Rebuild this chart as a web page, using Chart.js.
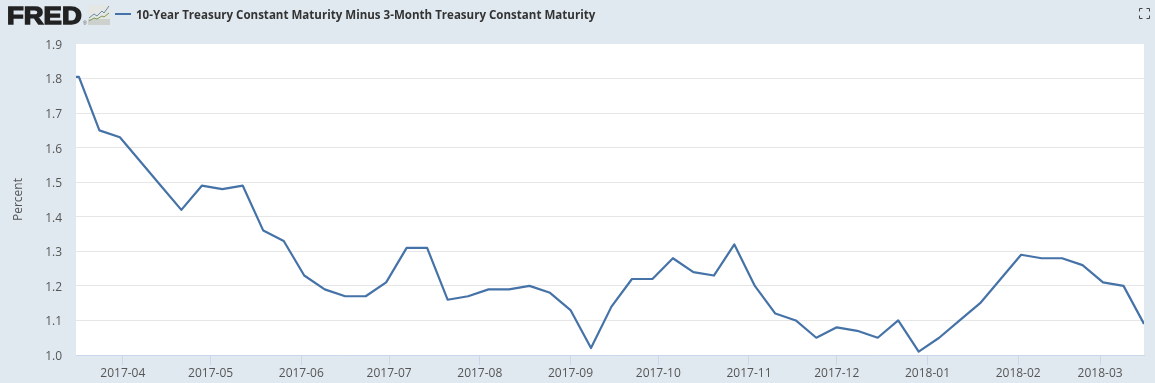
<!DOCTYPE html>
<html><head><meta charset="utf-8">
<style>
html,body{margin:0;padding:0;background:#e1e9f0;width:1155px;height:383px;overflow:hidden}
#wrap{position:relative;width:1155px;height:383px}
canvas{position:absolute;left:0;top:0}
#fred{position:absolute;left:7px;top:4px;font:bold 24.5px/24.5px "Liberation Sans",Arial,sans-serif;color:#222;-webkit-text-stroke:1.4px #222;transform:scaleX(1.12);transform-origin:0 0}
#reg{position:absolute;left:83px;top:21px;font:5px/5px "Liberation Sans",Arial,sans-serif;color:#555}
#ico{position:absolute;left:88px;top:5px}
#leg{position:absolute;left:115px;top:13px;width:16px;height:2px;background:#4572a7}
#lt{position:absolute;left:136px;top:6px;font:bold 11.55px/18px "Open Sans",sans-serif;color:#333}
#fs{position:absolute;left:1139px;top:8px}
</style></head><body><div id="wrap">
<canvas id="c" width="1155" height="383"></canvas>
<div id="fred">FRED</div><div id="reg">®</div>
<svg id="ico" width="22" height="20" viewBox="0 0 22 20"><rect width="22" height="20" rx="2" fill="#e4e7e4"/><rect y="14" width="22" height="6" fill="#cdd1cd"/><path d="M1 13l5-4 3 2 5-5 2 2 5-7" fill="none" stroke="#6a8aa8" stroke-width="1"/><path d="M1 16l5-3 3 1 5-3 2 1 5-4" fill="none" stroke="#7a9a50" stroke-width="1"/></svg>
<div id="leg"></div>
<div id="lt">10-Year Treasury Constant Maturity Minus 3-Month Treasury Constant Maturity</div>
<svg id="fs" width="11" height="11" viewBox="0 0 11 11"><path d="M0.5 3.5V0.5H3.5M7.5 0.5H10.5V3.5M10.5 7.5V10.5H7.5M3.5 10.5H0.5V7.5" fill="none" stroke="#444" stroke-width="1"/></svg>
</div>
<script src="https://cdn.jsdelivr.net/npm/chart.js@4/dist/chart.umd.min.js"></script>
<script>
const startDate = "2017-03-16";
const endDate = "2018-03-16";
const dates = ["2017-03-16","2017-03-17","2017-03-24","2017-03-31","2017-04-07","2017-04-14","2017-04-21","2017-04-28","2017-05-05","2017-05-12","2017-05-19","2017-05-26","2017-06-02","2017-06-09","2017-06-16","2017-06-23","2017-06-30","2017-07-07","2017-07-14","2017-07-21","2017-07-28","2017-08-04","2017-08-11","2017-08-18","2017-08-25","2017-09-01","2017-09-08","2017-09-15","2017-09-22","2017-09-29","2017-10-06","2017-10-13","2017-10-20","2017-10-27","2017-11-03","2017-11-10","2017-11-17","2017-11-24","2017-12-01","2017-12-08","2017-12-15","2017-12-22","2017-12-29","2018-01-05","2018-01-12","2018-01-19","2018-01-26","2018-02-02","2018-02-09","2018-02-16","2018-02-23","2018-03-02","2018-03-09","2018-03-16"];
const spread = [1.805,1.805,1.65,1.63,1.56,1.49,1.42,1.49,1.48,1.49,1.36,1.33,1.23,1.19,1.17,1.17,1.21,1.31,1.31,1.16,1.17,1.19,1.19,1.20,1.18,1.13,1.02,1.14,1.22,1.22,1.28,1.24,1.23,1.32,1.20,1.12,1.10,1.05,1.08,1.07,1.05,1.10,1.01,1.05,1.10,1.15,1.22,1.29,1.28,1.28,1.26,1.21,1.20,1.09];
const monthTicks = ["2017-04","2017-05","2017-06","2017-07","2017-08","2017-09","2017-10","2017-11","2017-12","2018-01","2018-02","2018-03"];
const yTicks = [1.0,1.1,1.2,1.3,1.4,1.5,1.6,1.7,1.8,1.9];
const ms = s => Date.parse(s.length === 7 ? s + "-01T00:00:00Z" : s + "T00:00:00Z");
const fmt = v => { const d = new Date(v); return d.getUTCFullYear() + "-" + String(d.getUTCMonth() + 1).padStart(2, "0"); };
const tickFont = { family: "'Open Sans',sans-serif", size: 12 };
const plotBg = { id: "plotBg", beforeDraw(ch) { const a = ch.chartArea, c = ch.ctx; c.save(); c.fillStyle = "#fff"; c.fillRect(a.left, a.top, a.right - a.left, a.bottom - a.top); c.restore(); } };
new Chart(document.getElementById("c"), {
  type: "line",
  data: { datasets: [{ data: dates.map((d, i) => ({ x: ms(d), y: spread[i] })), borderColor: "#4572a7", borderWidth: 2.2, pointRadius: 0, tension: 0, fill: false, borderJoinStyle: "round" }] },
  options: {
    responsive: false, animation: false, events: [],
    layout: { padding: { left: 0, right: 11, top: 44, bottom: 0 } },
    plugins: { legend: { display: false }, tooltip: { enabled: false }, title: { display: false } },
    scales: {
      x: { type: "linear", min: ms(startDate), max: ms(endDate), border: { color: "#ccd6eb" },
        grid: { drawOnChartArea: false, drawTicks: true, tickLength: 10, color: "#ccd6eb" },
        afterBuildTicks: s => { s.ticks = monthTicks.map(m => ({ value: ms(m) })); },
        afterFit: s => { s.height = 28; },
        ticks: { autoSkip: false, maxRotation: 0, minRotation: 0, padding: 1, color: "#555", font: tickFont, callback: v => fmt(v) } },
      y: { min: 1.0, max: 1.9, border: { display: false },
        title: { display: true, text: "Percent", color: "#555", font: { ...tickFont, size: 12 }, padding: { top: 11, bottom: 0 } },
        grid: { color: c => c.tick.value === 1.9 ? "transparent" : "#e6e6e6", drawTicks: false, lineWidth: 1 },
        afterBuildTicks: s => { s.ticks = yTicks.map(v => ({ value: v })); },
        afterFit: s => { s.width = 76; },
        ticks: { padding: 14, labelOffset: 1.5, color: "#555", font: tickFont, callback: v => v.toFixed(1) } }
    }
  },
  plugins: [plotBg]
});
</script></body></html>
